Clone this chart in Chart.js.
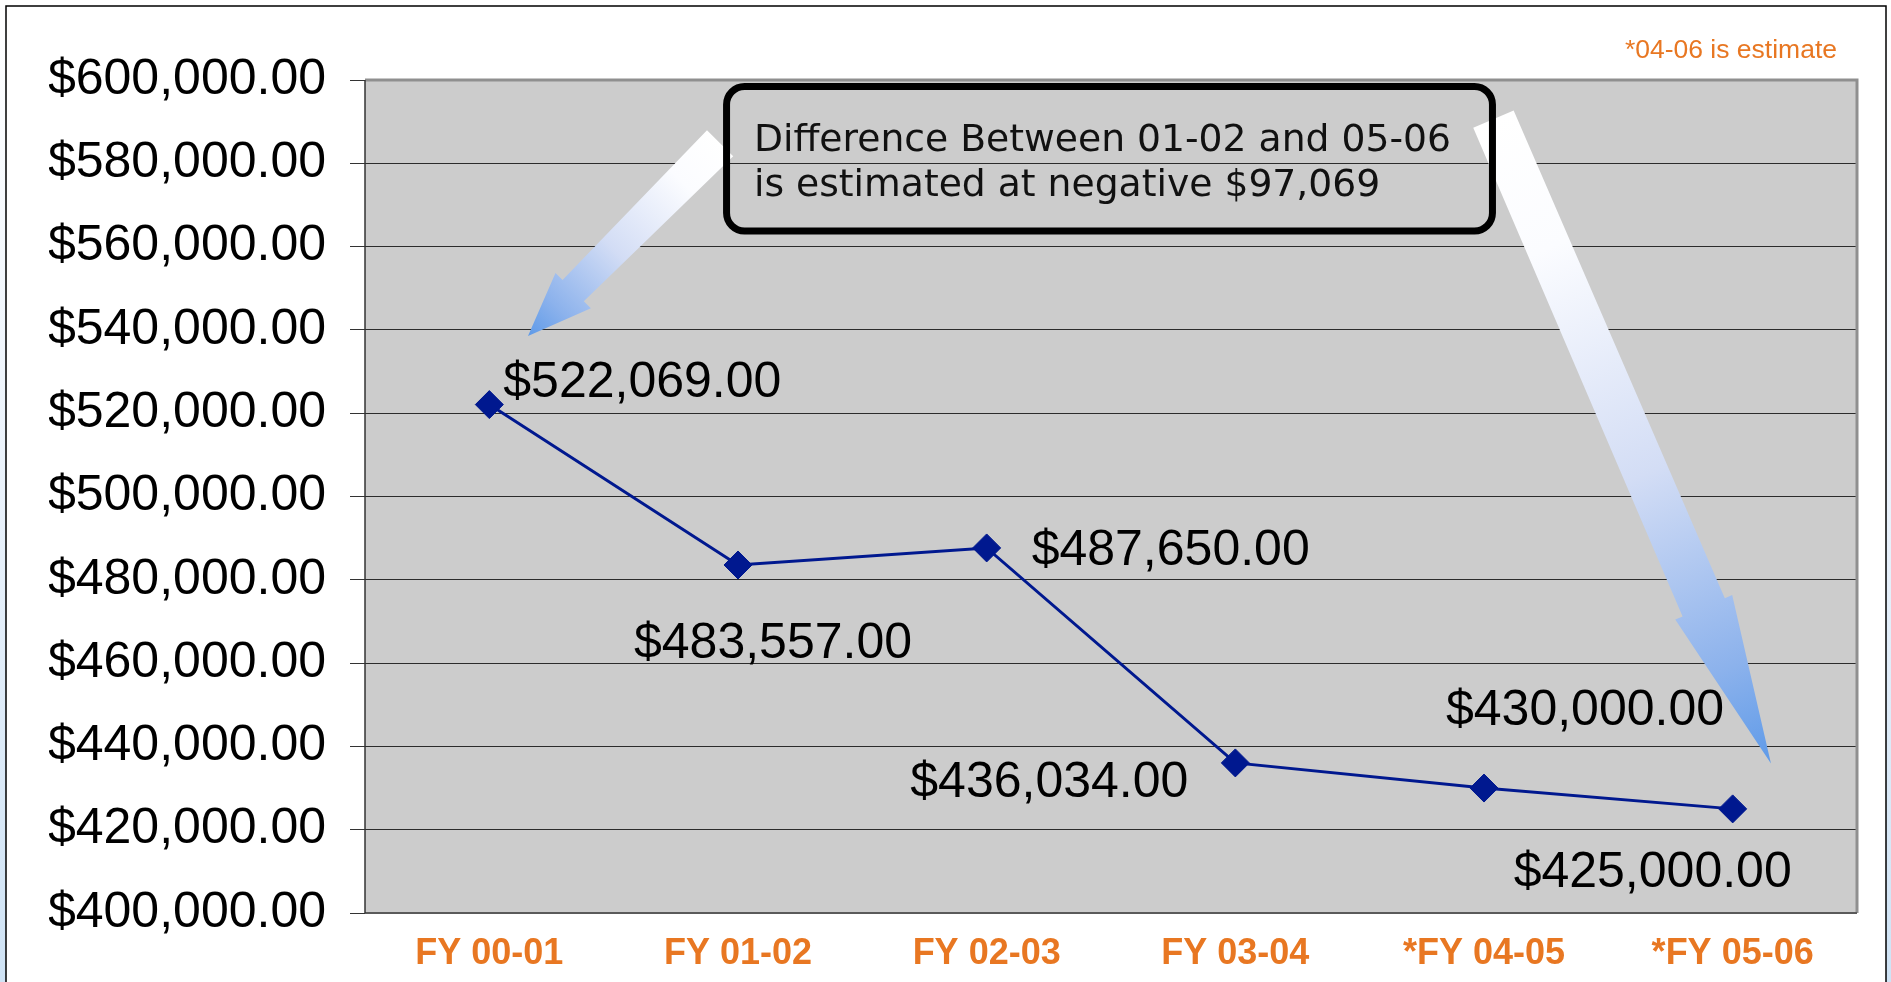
<!DOCTYPE html>
<html>
<head>
<meta charset="utf-8">
<script src="https://cdn.jsdelivr.net/npm/chart.js@4.4.0/dist/chart.umd.min.js"></script>
<style>
    html, body { margin: 0; padding: 0; background: #fff; overflow: hidden; }
    #wrap { position: relative; width: 1891px; height: 982px; }
</style>
</head>
<body>
<div id="wrap"><canvas id="fundingChart" width="1891" height="982"></canvas></div>
<script>
const categories = ['FY 00-01', 'FY 01-02', 'FY 02-03', 'FY 03-04', '*FY 04-05', '*FY 05-06'];
const amounts = [522069, 483557, 487650, 436034, 430000, 425000];
const yMin = 400000;
const yMax = 600000;
const yStep = 20000;
const noteText = '*04-06 is estimate';
const boxLines = ['Difference Between 01-02 and 05-06', 'is estimated at negative $97,069'];

const ARIAL = '"Liberation Sans", Arial, sans-serif';
const ORANGE = '#e87722';

function money(v) {
    return '$' + Number(v).toLocaleString('en-US', { minimumFractionDigits: 2, maximumFractionDigits: 2 });
}

function drawArrow(ctx, x1, y1, x2, y2, tailW, neckW, headW, headLen) {
    const len = Math.hypot(x2 - x1, y2 - y1);
    const ux = (x2 - x1) / len, uy = (y2 - y1) / len;
    const nx = -uy, ny = ux;
    const bx = x2 - ux * headLen, by = y2 - uy * headLen;
    const grad = ctx.createLinearGradient(x1, y1, x2, y2);
    grad.addColorStop(0, '#ffffff');
    grad.addColorStop(0.2, '#fbfcff');
    grad.addColorStop(0.55, '#d3ddf5');
    grad.addColorStop(0.85, '#8cb2ec');
    grad.addColorStop(1, '#5e9ae8');
    ctx.beginPath();
    ctx.moveTo(x1 + nx * tailW / 2, y1 + ny * tailW / 2);
    ctx.lineTo(bx + nx * neckW / 2, by + ny * neckW / 2);
    ctx.lineTo(bx + nx * headW / 2, by + ny * headW / 2);
    ctx.lineTo(x2, y2);
    ctx.lineTo(bx - nx * headW / 2, by - ny * headW / 2);
    ctx.lineTo(bx - nx * neckW / 2, by - ny * neckW / 2);
    ctx.lineTo(x1 - nx * tailW / 2, y1 - ny * tailW / 2);
    ctx.closePath();
    ctx.fillStyle = grad;
    ctx.fill();
}

// page frame + grey plot background
const backdrop = {
    id: 'backdrop',
    beforeDraw(chart) {
        const { ctx, chartArea: a, width, height } = chart;
        ctx.save();
        const side = ctx.createLinearGradient(0, 0, 0, height);
        side.addColorStop(0, '#ffffff');
        side.addColorStop(0.5, '#eaf2fb');
        side.addColorStop(1, '#cfe3f5');
        ctx.fillStyle = side;
        ctx.fillRect(0, 0, width, height);
        ctx.fillStyle = '#ffffff';
        ctx.fillRect(0, 0, width, 6);
        ctx.fillRect(6, 6, width - 11, height);
        ctx.strokeStyle = '#000';
        ctx.lineWidth = 1.5;
        ctx.strokeRect(6, 6, width - 11, height + 10);
        ctx.fillStyle = '#cccccc';
        ctx.fillRect(a.left, a.top, a.right - a.left, a.bottom - a.top);
        ctx.restore();
    },
    beforeDatasetsDraw(chart) {
        const { ctx, chartArea: a } = chart;
        const x = chart.scales.x, y = chart.scales.y;
        ctx.save();
        // plot outline
        ctx.strokeStyle = '#8f8f8f';
        ctx.lineWidth = 3;
        ctx.beginPath();
        ctx.moveTo(a.left, a.top);
        ctx.lineTo(a.right, a.top);
        ctx.lineTo(a.right, a.bottom);
        ctx.stroke();
        ctx.strokeStyle = '#5a5a5a';
        ctx.lineWidth = 2;
        ctx.beginPath();
        ctx.moveTo(a.left, a.bottom);
        ctx.lineTo(a.right, a.bottom);
        ctx.stroke();
        ctx.strokeStyle = '#333';
        ctx.lineWidth = 1.5;
        ctx.beginPath();
        ctx.moveTo(a.left, a.top);
        ctx.lineTo(a.left, a.bottom);
        ctx.stroke();

        // arrows, anchored in data space
        drawArrow(ctx, x.getPixelForValue(0.928), y.getPixelForValue(584819),
            x.getPixelForValue(0.1555), y.getPixelForValue(538555), 37, 30, 50, 64);
        drawArrow(ctx, x.getPixelForValue(4.038), y.getPixelForValue(590603),
            x.getPixelForValue(5.154), y.getPixelForValue(435906), 44, 46, 62, 170);

        // note box
        const bx1 = x.getPixelForValue(0.954), by1 = y.getPixelForValue(598434);
        const bx2 = x.getPixelForValue(4.034), by2 = y.getPixelForValue(563735);
        ctx.strokeStyle = '#000';
        ctx.lineWidth = 7;
        ctx.beginPath();
        ctx.roundRect(bx1, by1, bx2 - bx1, by2 - by1, 18);
        ctx.stroke();
        ctx.fillStyle = '#111';
        ctx.font = '37.7px "DejaVu Sans", Verdana, sans-serif';
        ctx.textAlign = 'left';
        ctx.textBaseline = 'alphabetic';
        const tx = x.getPixelForValue(1.064), ty = y.getPixelForValue(582892);
        boxLines.forEach((line, i) => ctx.fillText(line, tx, ty + i * 45));
        ctx.restore();
    },
    afterDraw(chart) {
        const { ctx, chartArea: a } = chart;
        const meta = chart.getDatasetMeta(0);
        const offsets = [[153, -21], [35, 79], [184, 3], [-186, 20], [101, -77], [-80, 64]];
        ctx.save();
        ctx.fillStyle = '#000';
        ctx.font = '50px ' + ARIAL;
        ctx.textAlign = 'center';
        ctx.textBaseline = 'middle';
        meta.data.forEach((pt, i) => {
            ctx.fillText(money(amounts[i]), pt.x + offsets[i][0], pt.y + offsets[i][1]);
        });
        ctx.fillStyle = ORANGE;
        ctx.font = '26.5px ' + ARIAL;
        ctx.textAlign = 'right';
        ctx.fillText(noteText, a.right - 20, a.top - 29);
        ctx.restore();
    }
};

const ctx = document.getElementById('fundingChart').getContext('2d');
const fundingChart = new Chart(ctx, {
    type: 'line',
    data: {
        labels: categories,
        datasets: [{
            data: amounts,
            borderColor: '#00188f',
            borderWidth: 3,
            backgroundColor: '#00188f',
            pointStyle: 'rectRot',
            pointRadius: 14,
            pointBorderWidth: 1,
            pointBorderColor: '#00188f',
            tension: 0,
            fill: false
        }]
    },
    options: {
        responsive: false,
        devicePixelRatio: 1,
        animation: false,
        layout: { padding: { left: 49, right: 34, top: 80, bottom: 7 } },
        plugins: {
            legend: { display: false },
            title: { display: false },
            tooltip: { enabled: false }
        },
        scales: {
            x: {
                offset: true,
                grid: { display: false },
                border: { display: false },
                ticks: {
                    color: ORANGE,
                    font: { family: ARIAL, size: 36, weight: 'bold' },
                    padding: 11,
                    maxRotation: 0,
                    autoSkip: false
                },
                afterFit: s => { s.height = 62; }
            },
            y: {
                min: yMin,
                max: yMax,
                ticks: {
                    stepSize: yStep,
                    callback: v => money(v),
                    color: '#000',
                    font: { family: ARIAL, size: 50 },
                    padding: 24
                },
                grid: { color: '#2b2b2b', lineWidth: 1, tickLength: 15, tickColor: '#333' },
                border: { display: false },
                afterFit: s => { s.width = 316; }
            }
        }
    },
    plugins: [backdrop]
});
</script>
</body>
</html>
